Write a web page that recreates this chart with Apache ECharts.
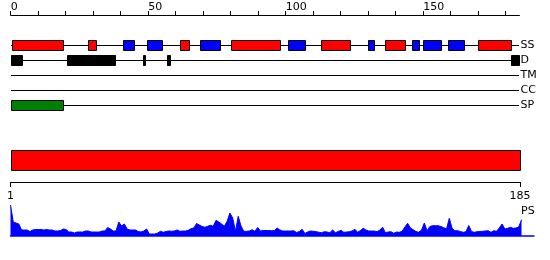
<!DOCTYPE html>
<html><head><meta charset="utf-8">
<script src="https://cdn.jsdelivr.net/npm/echarts@6/dist/echarts.min.js"></script>
<style>html,body{margin:0;padding:0;background:#fff}#c{width:550px;height:260px}</style>
</head><body><div id="c"></div>
<script>
// ---- data ----
const seqLength = 185;
const topTickValues = [0,10,20,30,40,50,60,70,80,90,100,110,120,130,140,150,160,170,180];
const topLabelValues = [0,50,100,150];
const trackNames = ['SS','D','TM','CC','SP'];
const ssHelix = [[0.5,19],[28,31],[61.5,65],[80,98],[113,123.5],[136,143.5],[170,182]];
const ssStrand = [[41,45],[49.5,55],[69,76],[101,107],[130,132],[146,148.5],[150,156.5],[159,165]];
const disorder = [[0,4],[20.5,38],[48,49],[57,58],[182,185]];
const transmembrane = [];
const coiledCoil = [];
const signalPeptide = [[0,19]];
const domainRegion = [[1,185]];
const bottomTickValues = [1,185];
const psScores = [
  31,14,13,12,6,6,6,4.5,6,6.5,
  6.5,6.5,6,6.5,6,6,5,5,5.5,7,
  6.5,4,4,3,4,4,4,5,5,4,
  4,4,4,5,5,8.5,7,5,5,14,
  10,12,7,6,6,6,4.5,4,5,7,
  2,2,2,3,4.7,3.7,4.5,5,4.7,5,
  6,4.7,5,5,5.7,7.3,8,12.5,11,9.5,
  8.7,9.7,10.7,9.7,15.7,14,12,9.7,14.7,23,
  18,4.7,19.7,10,4.7,4.7,5,6.3,4.7,8.5,
  5,5.5,5.5,5.5,5.3,5.5,8,6,5,5,
  5,5,5.3,3.5,4.5,6.7,2.5,4,5,4.7,
  4.3,3.8,3.3,4.3,4,3.3,6,3.3,4.5,5.7,
  3.7,4,4.3,5,6.7,3.7,5.5,7.7,6,5,
  5,5,4.3,6,8.7,3.3,4,4.3,2.7,4,
  3.7,4.7,9,12.7,8,6.3,4.5,3.7,6,13,
  5.3,9.5,10.3,10.3,10.3,9.5,8.3,7,17.7,7.7,
  5.3,5.3,4.5,3.7,4.3,10.5,4.5,3.7,4.3,4.5,
  4.7,5,5.3,3.7,5.3,4.7,8,12,7,7.7,
  8.7,7.7,8,9,16.3
];

// ---- build ----
const FONT = 'DejaVu Sans';
const colors = {H:'#ff0000', E:'#0000ff', D:'#000000', SP:'#008000'};
const featureData = [];
ssHelix.forEach(f => featureData.push([f[0], f[1], 0, 'H']));
ssStrand.forEach(f => featureData.push([f[0], f[1], 0, 'E']));
disorder.forEach(f => featureData.push([f[0], f[1], 1, 'D']));
transmembrane.forEach(f => featureData.push([f[0], f[1], 2, 'TM']));
coiledCoil.forEach(f => featureData.push([f[0], f[1], 3, 'CC']));
signalPeptide.forEach(f => featureData.push([f[0], f[1], 4, 'SP']));
const lineData = trackNames.map((n, i) => [0, seqLength, i]);

function crisp(x0, y0, x1, y1) {
  const a = Math.round(x0), b = Math.round(y0), c = Math.round(x1), d = Math.round(y1);
  return {x: a + 0.5, y: b + 0.5, width: Math.max(c - a, 1), height: d - b};
}

const chart = echarts.init(document.getElementById('c'), null, {renderer: 'canvas'});
chart.setOption({
  animation: false,
  backgroundColor: '#fff',
  title: {text: 'PS', left: 521, top: 206, padding: 0,
    textStyle: {fontFamily: FONT, fontSize: 11, fontWeight: 'normal', color: '#000'}},
  grid: [
    {left: 10.7, right: 30.55, top: 37.5, height: 75},
    {left: 10.5, right: 30, top: 150, height: 21},
    {left: 10.5, right: 16, top: 204, height: 32}
  ],
  xAxis: [
    {gridIndex: 0, type: 'value', min: 0, max: seqLength, position: 'top', offset: 22.5,
      axisLine: {show: true, onZero: false, lineStyle: {color: '#000', width: 1}},
      axisTick: {show: true, length: 4, customValues: topTickValues, lineStyle: {color: '#000'}},
      axisLabel: {show: true, customValues: topLabelValues, align: 'left', margin: 2,
        fontFamily: FONT, fontSize: 11, color: '#000'},
      splitLine: {show: false}},
    {gridIndex: 1, type: 'value', min: 1, max: seqLength, position: 'bottom', offset: 11,
      axisLine: {show: true, onZero: false, lineStyle: {color: '#000', width: 1}},
      axisTick: {show: true, length: 5, customValues: bottomTickValues, lineStyle: {color: '#000'}},
      axisLabel: {show: true, customValues: bottomTickValues, margin: 9,
        fontFamily: FONT, fontSize: 11, color: '#000'},
      splitLine: {show: false}},
    {gridIndex: 2, type: 'value', min: 1, max: 189.5,
      axisLine: {show: true, onZero: true, lineStyle: {color: '#0000ff', width: 1.5}},
      axisTick: {show: false}, axisLabel: {show: false}, splitLine: {show: false}}
  ],
  yAxis: [
    {gridIndex: 0, type: 'category', data: trackNames, inverse: true, position: 'right',
      axisLine: {show: false}, axisTick: {show: false}, splitLine: {show: false},
      axisLabel: {margin: 1, fontFamily: FONT, fontSize: 11, color: '#000', align: 'left'}},
    {gridIndex: 1, type: 'value', min: 0, max: 1, show: false},
    {gridIndex: 2, type: 'value', min: 0, max: 32, show: false}
  ],
  series: [
    {type: 'custom', xAxisIndex: 0, yAxisIndex: 0, data: lineData,
      encode: {x: [0, 1], y: 2}, silent: true,
      renderItem: (params, api) => {
        const s = api.coord([api.value(0), api.value(2)]);
        const e = api.coord([api.value(1), api.value(2)]);
        const y = Math.round(s[1]) + 0.5;
        return {type: 'line', shape: {x1: Math.round(s[0]), y1: y, x2: Math.round(e[0]), y2: y},
          style: {stroke: '#000', lineWidth: 1}};
      }},
    {type: 'custom', xAxisIndex: 0, yAxisIndex: 0, data: featureData,
      encode: {x: [0, 1], y: 2}, silent: true,
      renderItem: (params, api) => {
        const s = api.coord([api.value(0), api.value(2)]);
        const e = api.coord([api.value(1), api.value(2)]);
        const kind = featureData[params.dataIndex][3];
        const cy = Math.round(s[1]);
        return {type: 'rect', shape: crisp(s[0], cy - 5, e[0], cy + 5),
          style: {fill: colors[kind] || '#888', stroke: '#000', lineWidth: 1}};
      }},
    {type: 'custom', xAxisIndex: 1, yAxisIndex: 1, data: domainRegion,
      encode: {x: [0, 1]}, silent: true,
      renderItem: (params, api) => {
        const s = api.coord([api.value(0), 1]);
        const e = api.coord([api.value(1), 0]);
        return {type: 'rect', shape: crisp(s[0], s[1], e[0], e[1] - 1),
          style: {fill: '#ff0000', stroke: '#000', lineWidth: 1}};
      }},
    {type: 'line', xAxisIndex: 2, yAxisIndex: 2,
      data: psScores.map((v, i) => [i + 1, v]),
      showSymbol: false, symbol: 'none', smooth: false, silent: true,
      lineStyle: {color: '#0000ff', width: 1},
      areaStyle: {color: '#0000ff', opacity: 1}}
  ]
});
</script></body></html>
